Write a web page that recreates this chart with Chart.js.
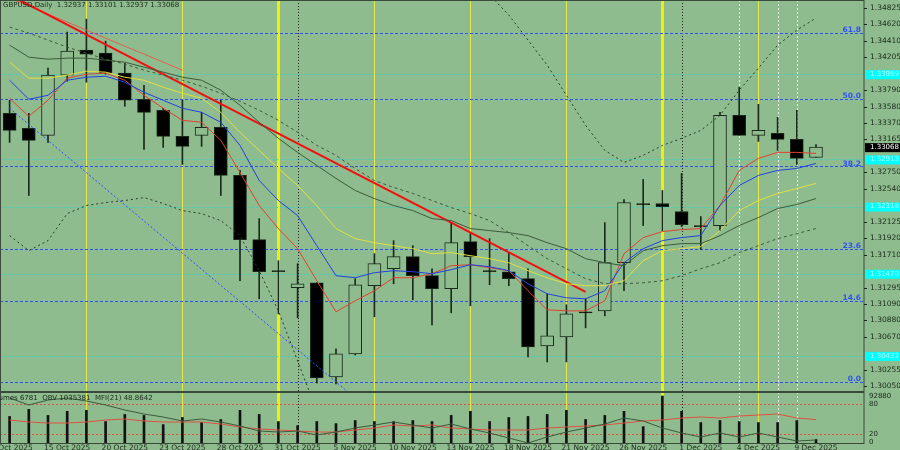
<!DOCTYPE html>
<html><head><meta charset="utf-8">
<script src="https://cdn.jsdelivr.net/npm/chart.js@4.4.1/dist/chart.umd.min.js"></script>
<style>
html,body{margin:0;padding:0;background:#8fbc8f;width:900px;height:450px;overflow:hidden}
canvas{display:block}
</style></head><body>
<div id="w1" style="position:absolute;left:0;top:0;width:900px;height:392px"><canvas id="c1"></canvas></div>
<div id="w2" style="position:absolute;left:0;top:392px;width:900px;height:58px"><canvas id="c2"></canvas></div>
<script>
const dates=["10 Oct 2025","13 Oct 2025","14 Oct 2025","15 Oct 2025","16 Oct 2025","17 Oct 2025","20 Oct 2025","21 Oct 2025","22 Oct 2025","23 Oct 2025","24 Oct 2025","27 Oct 2025","28 Oct 2025","29 Oct 2025","30 Oct 2025","31 Oct 2025","3 Nov 2025","4 Nov 2025","5 Nov 2025","6 Nov 2025","7 Nov 2025","10 Nov 2025","11 Nov 2025","12 Nov 2025","13 Nov 2025","14 Nov 2025","17 Nov 2025","18 Nov 2025","19 Nov 2025","20 Nov 2025","21 Nov 2025","24 Nov 2025","25 Nov 2025","26 Nov 2025","27 Nov 2025","28 Nov 2025","1 Dec 2025","2 Dec 2025","3 Dec 2025","4 Dec 2025","5 Dec 2025","8 Dec 2025","9 Dec 2025","",""];
const opens=[1.33495,1.33306,1.33217,1.33977,1.34293,1.34255,1.34002,1.33673,1.33533,1.33204,1.33217,1.33318,1.32711,1.31900,1.31508,1.31293,1.31356,1.30166,1.30457,1.31318,1.31533,1.31685,1.31445,1.31280,1.31875,1.31508,1.31495,1.31407,1.30558,1.30672,1.30989,1.31001,1.31609,1.32356,1.32356,1.32255,1.32078,1.32078,1.33470,1.33217,1.33242,1.33166,1.32937];
const highs=[1.33660,1.33495,1.34065,1.34521,1.34685,1.34407,1.34128,1.33850,1.33559,1.33660,1.33508,1.33660,1.32774,1.32166,1.31634,1.31597,1.31356,1.30520,1.31407,1.31723,1.31888,1.31824,1.31533,1.32115,1.31976,1.31913,1.31736,1.31533,1.31217,1.31078,1.31153,1.32115,1.32407,1.32660,1.32521,1.32736,1.32192,1.33508,1.33825,1.33609,1.33445,1.33533,1.33101];
const lows=[1.33128,1.32457,1.33128,1.33901,1.33888,1.33989,1.33584,1.33040,1.33065,1.32850,1.33078,1.32457,1.31381,1.31153,1.30963,1.30913,1.30090,1.30077,1.30444,1.30926,1.31343,1.31141,1.30824,1.30976,1.31065,1.31331,1.31318,1.30419,1.30356,1.30356,1.30786,1.30938,1.31255,1.32078,1.32014,1.32065,1.31774,1.32014,1.33217,1.33141,1.33027,1.32850,1.32937];
const closes=[1.33280,1.33154,1.33977,1.34280,1.34242,1.34002,1.33660,1.33508,1.33204,1.33078,1.33318,1.32711,1.31900,1.31495,1.31495,1.31343,1.30153,1.30457,1.31331,1.31597,1.31685,1.31445,1.31280,1.31862,1.31685,1.31495,1.31407,1.30546,1.30685,1.30963,1.30976,1.31609,1.32369,1.32343,1.32318,1.32090,1.32065,1.33470,1.33217,1.33280,1.33166,1.32926,1.33068];
const volumes=[51380,65210,53350,61260,63240,41500,55330,53350,35570,49400,39520,45450,63240,55330,41500,33590,41500,37550,43480,41500,41500,43480,41500,53350,61260,41500,49400,51380,55330,63240,45450,53350,61260,31620,90900,61260,39520,43480,41500,39520,39520,43480,6781];
const mfi=[48,44,42,42,44,48,50,46,44,44,44,40,34,30,28,26,24,24,28,32,38,36,38,32,30,28,28,28,32,34,36,38,42,46,48,52,54,52,56,58,60,52,48.86];
const obvIdx=[92,78,88,92,86,78,68,60,54,46,50,44,36,26,24,26,18,24,32,38,44,38,32,40,30,22,12,2,14,24,32,40,52,46,32,22,14,22,14,22,14,6,8];
const maRed=[1.33685,1.33457,1.33660,1.33939,1.33989,1.34002,1.33913,1.33723,1.33559,1.33407,1.33382,1.33154,1.32749,1.32331,1.32040,1.31786,1.31381,1.30989,1.31128,1.31255,1.31419,1.31419,1.31470,1.31571,1.31584,1.31546,1.31508,1.31255,1.31014,1.31001,1.31001,1.31128,1.31723,1.31926,1.32002,1.32027,1.32040,1.32331,1.32774,1.32926,1.33002,1.33002,1.32989];
const maBlue=[1.33913,1.33673,1.33723,1.33913,1.33951,1.33964,1.33888,1.33761,1.33660,1.33559,1.33508,1.33382,1.33090,1.32647,1.32394,1.32204,1.31824,1.31445,1.31419,1.31483,1.31508,1.31495,1.31470,1.31521,1.31584,1.31558,1.31508,1.31343,1.31217,1.31166,1.31153,1.31255,1.31609,1.31786,1.31888,1.31926,1.31951,1.32331,1.32584,1.32711,1.32774,1.32799,1.32862];
const maYellow=[1.34141,1.33939,1.33939,1.33977,1.34027,1.34015,1.33951,1.33913,1.33825,1.33749,1.33685,1.33508,1.33255,1.33027,1.32799,1.32584,1.32331,1.32040,1.31913,1.31862,1.31824,1.31786,1.31723,1.31736,1.31698,1.31660,1.31609,1.31508,1.31419,1.31343,1.31318,1.31318,1.31381,1.31634,1.31761,1.31786,1.31812,1.32014,1.32267,1.32394,1.32483,1.32546,1.32610];
const maGreen=[1.34356,1.34204,1.34179,1.34192,1.34192,1.34166,1.34141,1.34078,1.34015,1.33951,1.33913,1.33787,1.33597,1.33382,1.33179,1.33002,1.32837,1.32673,1.32521,1.32419,1.32331,1.32267,1.32166,1.32141,1.32040,1.32014,1.31989,1.31951,1.31862,1.31786,1.31660,1.31609,1.31571,1.31761,1.31824,1.31850,1.31850,1.31951,1.32078,1.32179,1.32293,1.32344,1.32419];
const maDashed=[1.34584,1.34508,1.34420,1.34331,1.34255,1.34179,1.34116,1.34040,1.33977,1.33913,1.33837,1.33749,1.33647,1.33533,1.33407,1.33255,1.33090,1.32964,1.32799,1.32647,1.32559,1.32483,1.32394,1.32305,1.32229,1.32141,1.31989,1.31824,1.31660,1.31533,1.31407,1.31343,1.31343,1.31356,1.31381,1.31445,1.31533,1.31609,1.31736,1.31824,1.31913,1.31976,1.32040];
const bandUpper=[null,null,null,null,null,null,null,null,null,null,null,null,null,null,null,null,null,null,null,null,null,null,null,null,1.35242,1.34989,1.34736,1.34420,1.34103,1.33723,1.33344,1.33027,1.32875,1.32964,1.33090,1.33179,1.33280,1.33470,1.33787,1.34065,1.34356,1.34546,1.34698];
const bandLower=[1.31951,1.31761,1.31888,1.32229,1.32331,1.32369,1.32394,1.32432,1.32356,1.32267,1.32229,1.32141,1.31951,1.31508,1.31001,1.30368,1.29735];
const trendMain=[[0,1.34989],[30,1.31242]];
const trendThin=[[0,1.34951],[9,1.34040]];
const trendBlue=[[0,1.33559],[18,1.29900]];
const fibLevels=[1.34508,1.33673,1.32825,1.31787,1.31128,1.30103];
const fibNames=["61.8","50.0","38.2","23.6","14.6","0.0"];
const cyanLevels=[1.33989,1.32913,1.32318,1.31470,1.30432];
const axisTicks=[1.34825,1.34620,1.34410,1.34205,1.33790,1.33580,1.33370,1.33165,1.32750,1.32540,1.32125,1.31920,1.31710,1.31295,1.31090,1.30880,1.30670,1.30255,1.30050];
const vThinYellow=[4,9,19,24,29,39];
const vThickYellow=[14,34];
const vDotBlack=[15,35];
const vWhite=[38,40,41];
const dateLabelIdx=[0,3,6,9,12,15,18,21,24,27,30,33,36,39,42];

const BG='#8fbc8f', F='"DejaVu Sans", sans-serif', FIB='#2f50ff';
function vlines(ch){
  const ctx=ch.ctx,a=ch.chartArea,x=ch.scales.x;
  ctx.save();
  const dl=(arr,col,w,dash)=>arr.forEach(i=>{ctx.beginPath();ctx.strokeStyle=col;ctx.lineWidth=w;ctx.setLineDash(dash);const px=Math.round(x.getPixelForValue(i))+0.5;ctx.moveTo(px,a.top);ctx.lineTo(px,a.bottom);ctx.stroke();});
  dl(vThinYellow,'#e8e84a',1,[]);dl(vThickYellow,'#f0f000',3,[]);dl(vDotBlack,'#222',1,[1,2]);dl(vWhite,'#e8f0e8',1,[2,2]);
  ctx.restore();
}
const mainPlugin={id:'mp',
 beforeDatasetsDraw(ch){
  const ctx=ch.ctx,a=ch.chartArea,y=ch.scales.y;
  vlines(ch);
  ctx.save();ctx.lineWidth=1;
  cyanLevels.forEach(v=>{const py=Math.round(y.getPixelForValue(v))+0.5;ctx.beginPath();ctx.strokeStyle='#40d0c0';ctx.setLineDash([2,2]);ctx.moveTo(a.left,py);ctx.lineTo(a.right,py);ctx.stroke();});
  ctx.lineWidth=1.2;
  fibLevels.forEach(v=>{const py=Math.round(y.getPixelForValue(v))+0.5;ctx.beginPath();ctx.strokeStyle=FIB;ctx.setLineDash([3,2]);ctx.moveTo(a.left,py);ctx.lineTo(a.right,py);ctx.stroke();});
  ctx.restore();
 },
 afterDraw(ch){
  const ctx=ch.ctx,a=ch.chartArea,y=ch.scales.y;
  ctx.save();
  ctx.font='bold 7.5px '+F;ctx.fillStyle=FIB;ctx.textAlign='right';ctx.textBaseline='bottom';
  fibLevels.forEach((v,i)=>ctx.fillText(fibNames[i],a.right-3,y.getPixelForValue(v)+1));
  ctx.strokeStyle='#3a4a3a';ctx.lineWidth=1;ctx.setLineDash([]);
  ctx.strokeRect(0.5,0.5,a.right-0.5,a.bottom);
  ctx.textAlign='left';ctx.textBaseline='middle';ctx.fillStyle='#1a2a1a';ctx.font='7.5px '+F;
  axisTicks.forEach(v=>{const py=y.getPixelForValue(v);ctx.fillRect(a.right,Math.round(py),3,1);ctx.fillText(v.toFixed(5),a.right+6,py);});
  ctx.font='7px '+F;
  cyanLevels.forEach(v=>{const py=y.getPixelForValue(v);ctx.fillStyle='#00ffff';ctx.fillRect(a.right+1,py-4,36,9);ctx.fillStyle='#b0ffff';ctx.fillText(v.toFixed(5),a.right+6,py);});
  const pc=closes[closes.length-1],pp=y.getPixelForValue(pc);
  ctx.fillStyle='#000';ctx.fillRect(a.right+1,pp-4,36,9);ctx.fillStyle='#fff';ctx.fillText(pc.toFixed(5),a.right+6,pp);
  ctx.fillStyle='#1a2a1a';ctx.textBaseline='top';ctx.font='7px '+F;
  ctx.fillText('GBPUSD,Daily  1.32937 1.33101 1.32937 1.33068',3,2);
  ctx.restore();
 }};
const bodyBg=opens.map((o,i)=>closes[i]<o?'#000':BG);
const linesDs=(data,col,dash,w)=>({type:'line',data,borderColor:col,borderWidth:w||1,borderDash:dash||[],pointRadius:0,fill:false,tension:0,order:-1,spanGaps:false});
const xyLine=(pts,col,w,dash)=>({type:'line',data:pts.map(p=>({x:p[0],y:p[1]})),borderColor:col,borderWidth:w,borderDash:dash||[],pointRadius:0,order:-1});
new Chart(document.getElementById('c1'),{
 type:'bar',
 data:{labels:dates.map((d,i)=>i),datasets:[
  {data:lows.map((l,i)=>[l,highs[i]]),backgroundColor:'#1a2a1a',barThickness:1,grouped:false,order:2},
  {data:opens.map((o,i)=>[o,closes[i]]),backgroundColor:bodyBg,borderColor:'#1a2a1a',borderWidth:1,borderSkipped:false,barThickness:13,grouped:false,order:1},
  linesDs(maGreen,'#3c5a3c'),
  linesDs(maYellow,'#e0e040'),
  linesDs(maBlue,'#2040e0'),
  linesDs(maRed,'#e04030'),
  linesDs(maDashed,'#3c5a3c',[3,3]),
  linesDs(bandUpper,'#2a3a2a',[2,3]),
  linesDs(bandLower,'#2a3a2a',[2,3]),
  xyLine(trendMain,'#f01010',2),
  xyLine(trendThin,'#e06050',1),
  xyLine(trendBlue,FIB,1,[2,2])
 ]},
 options:{responsive:true,maintainAspectRatio:false,animation:false,
  layout:{padding:{top:0,bottom:1,left:0,right:36}},
  plugins:{legend:{display:false},tooltip:{enabled:false}},
  scales:{
   x:{type:'category',display:false,offset:true},
   y:{display:false,min:1.29989,max:1.34926}
  }},
 plugins:[mainPlugin]
});
const lowPlugin={id:'lp',
 beforeDatasetsDraw(ch){
  const ctx=ch.ctx,a=ch.chartArea,m=ch.scales.m;
  vlines(ch);
  ctx.save();ctx.strokeStyle='#e05040';ctx.setLineDash([2,2]);
  [80,20].forEach(v=>{const py=Math.round(m.getPixelForValue(v))+0.5;ctx.beginPath();ctx.moveTo(a.left,py);ctx.lineTo(a.right,py);ctx.stroke();});
  ctx.restore();
 },
 afterDraw(ch){
  const ctx=ch.ctx,a=ch.chartArea,m=ch.scales.m,x=ch.scales.x;
  ctx.save();ctx.strokeStyle='#3a4a3a';ctx.lineWidth=1;ctx.strokeRect(0.5,a.top+0.5,a.right-0.5,a.bottom-a.top);
  ctx.font='7px '+F;ctx.fillStyle='#1a2a1a';ctx.textBaseline='middle';ctx.textAlign='left';
  ctx.fillText('92880',a.right+5,a.top+4);ctx.fillText('80',a.right+5,m.getPixelForValue(80));
  ctx.fillText('20',a.right+5,m.getPixelForValue(20));ctx.fillText('0',a.right+5,a.bottom-1);
  ctx.textBaseline='top';ctx.fillText('Volumes 6781  OBV 1035381  MFI(21) 48.8642',-12,a.top+3);
  ctx.textAlign='center';ctx.textBaseline='top';ctx.font='7.5px '+F;
  dateLabelIdx.forEach(i=>ctx.fillText(dates[i],x.getPixelForValue(i),a.bottom+1));
  ctx.restore();
 }};
new Chart(document.getElementById('c2'),{
 type:'bar',
 data:{labels:dates.map((d,i)=>i),datasets:[
  {data:volumes,backgroundColor:'#111',barThickness:2,yAxisID:'v',order:1},
  {type:'line',data:obvIdx,borderColor:'#3c5a3c',borderWidth:1,pointRadius:0,yAxisID:'m',order:0},
  {type:'line',data:mfi,borderColor:'#e05040',borderWidth:1,pointRadius:0,yAxisID:'m',order:0}
 ]},
 options:{responsive:true,maintainAspectRatio:false,animation:false,
  layout:{padding:{top:0,bottom:7,left:0,right:36}},
  plugins:{legend:{display:false},tooltip:{enabled:false}},
  scales:{x:{type:'category',display:false,offset:true},
   v:{display:false,min:0,max:98685},
   m:{display:false,min:2,max:104}}},
 plugins:[lowPlugin]
});
</script></body></html>
